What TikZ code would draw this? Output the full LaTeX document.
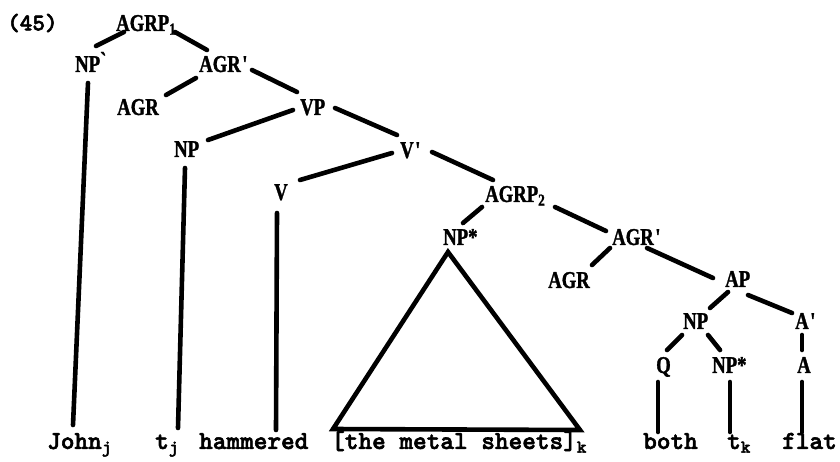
\documentclass[tikz,border=0pt]{standalone}
\usepackage{fontspec}
\usetikzlibrary{calc}
% bold condensed serif for category labels, heavy typewriter for the words
\newfontfamily\catfont{Liberation Serif}[FakeStretch=0.78,BoldFeatures={FakeBold=1.2}]
\newfontfamily\wordfont{lmmonolt10-bold}[Extension=.otf,FakeBold=2.2]
\newcommand{\subix}[1]{\textsubscript{#1}}
\newcommand{\prm}{\kern1.5pt\symbol{39}}
\begin{document}
\begin{tikzpicture}[x=1pt,y=-1pt,
  cat/.style={anchor=west,inner sep=0pt,text height=15.9pt,text depth=0pt,
    font=\catfont\bfseries\fontsize{24}{24}\selectfont},
  word/.style={anchor=west,inner sep=0pt,text height=15.9pt,text depth=0pt,
    font=\wordfont\fontsize{26}{26}\selectfont},
  branch/.style={line width=4.6pt,line cap=round,line join=round}]
\useasboundingbox (0,0) rectangle (840,461);

% example number
\node[word,font=\wordfont\fontsize{24}{24}\selectfont,text height=14.7pt] (ex) at (7,23) {(45)};

% category labels
\node[cat] (agrpA)   at (116,23)  {AGRP\textsubscript{1}};
\node[cat] (npTop)   at (75,64)   {NP\raisebox{0.3ex}{\symbol{96}}};
\node[cat] (agrbarA) at (199,64)  {AGR\prm};
\node[cat] (agrA)    at (117,107) {AGR};
\node[cat] (vp)      at (300,107) {VP};
\node[cat] (npB)     at (174,149) {NP};
\node[cat] (vbar)    at (400,150) {V\prm};
\node[cat] (v)       at (274,192) {V};
\node[cat] (agrpB)   at (485,194) {AGRP\textsubscript{2}};
\node[cat] (npstarA) at (443,237) {NP*};
\node[cat] (agrbarB) at (612,237) {AGR\prm};
\node[cat] (agrB)    at (548,280) {AGR};
\node[cat] (ap)      at (725,279) {AP};
\node[cat] (npC)     at (683,321) {NP};
\node[cat] (abar)    at (795,321) {A\prm};
\node[cat] (q)       at (656,365) {Q};
\node[cat] (npstarB) at (712,365) {NP*};
\node[cat] (a)       at (797,365) {A};

% terminal string
\node[word] (wJohn)   at (47,441)  {John\subix{j}};
\node[word] (wtj)     at (155,441) {t\subix{j}};
\node[word] (wham)    at (199,441) {hammered};
\node[word] (wsheets) at (331,441) {[the metal sheets]\subix{k}};
\node[word] (wboth)   at (643,441) {both};
\node[word] (wtk)     at (727,441) {t\subix{k}};
\node[word] (wflat)   at (782,441) {flat};

% branches: endpoints given as offsets from each node's west anchor
\newcommand{\branchline}[4]{\draw[branch] ($(#1.west)+(#2)$) -- ($(#3.west)+(#4)$);}
\branchline{agrpA}{8,9}{npTop}{21,-18}
\branchline{agrpA}{59,9}{agrbarA}{8,-14}
\branchline{npTop}{13,19}{wJohn}{26,-16}
\branchline{agrbarA}{-3,14}{agrA}{49,-12}
\branchline{agrbarA}{53,6}{vp}{-3,-15}
\branchline{vp}{-7,3}{npB}{34,-9}
\branchline{vp}{35,1}{vbar}{-3,-15}
\branchline{npB}{11,19}{wtj}{23,-13}
\branchline{vbar}{-8,3}{v}{26,-12}
\branchline{vbar}{32,2}{agrpB}{8,-14}
\branchline{v}{3,21}{wham}{77,-11}
\branchline{agrpB}{-3,13}{npstarA}{20,-14}
\branchline{agrpB}{70,13}{agrbarB}{-6,-6}
\branchline{agrbarB}{-2,11}{agrB}{44,-15}
\branchline{agrbarB}{35,11}{ap}{-12,-1}
\branchline{ap}{3,13}{npC}{27,-13}
\branchline{ap}{23,16}{abar}{-3,-8}
\branchline{npC}{-1,14}{q}{11,-15}
\branchline{npC}{25,14}{npstarB}{8,-15}
\branchline{abar}{7,14}{a}{5,-15}
\branchline{q}{2,17}{wboth}{15,-9}
\branchline{npstarB}{18,17}{wtk}{3,-9}
\branchline{a}{5,17}{wflat}{20,-9}

% triangle standing for the unanalysed NP
\draw[branch,line cap=butt,line join=miter]
  ($(npstarA.west)+(5,15)$) -- ($(wsheets.west)+(2,-12)$)
  -- ($(wsheets.west)+(249,-11)$) -- cycle;
\end{tikzpicture}
\end{document}
